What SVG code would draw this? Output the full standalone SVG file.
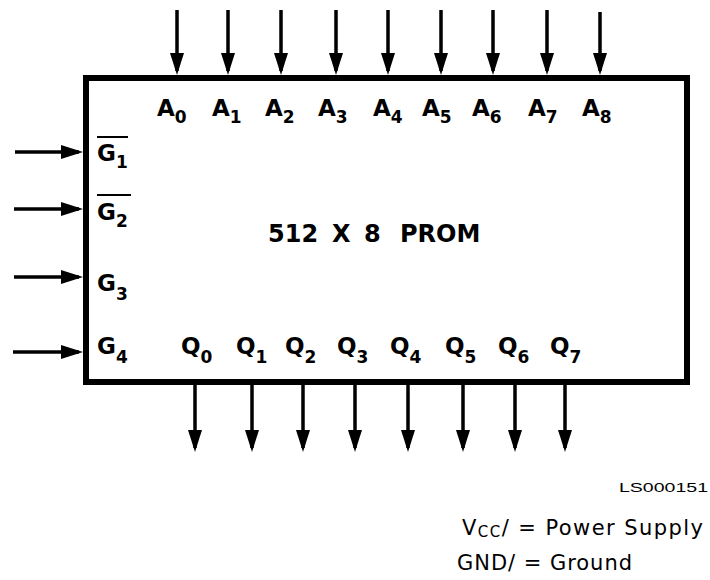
<svg xmlns="http://www.w3.org/2000/svg" width="710" height="580" viewBox="0 0 710 580">
<style>
.lbl{font-family:"DejaVu Sans","Liberation Sans",sans-serif;font-weight:bold;font-size:23px;fill:#000}
.sub{font-size:17px}
.title{font-family:"DejaVu Sans","Liberation Sans",sans-serif;font-weight:bold;font-size:24px;fill:#000}
.note{font-family:"DejaVu Sans","Liberation Sans",sans-serif;font-size:21px;fill:#000}
.code{font-family:"Liberation Sans",Arial,sans-serif;font-size:13px;fill:#000}
.wire{stroke:#000;stroke-width:3.5;fill:none;marker-end:url(#ah)}
.bar{stroke:#000;stroke-width:2}
</style>
<defs>
<marker id="ah" markerUnits="userSpaceOnUse" viewBox="0 0 22 14" refX="18" refY="7" markerWidth="22" markerHeight="14" orient="auto">
<path d="M0,0 L22,7 L0,14 z" fill="#000"/>
</marker>
</defs>
<rect width="710" height="580" fill="#fff"/>
<g id="prom">
<rect x="86" y="78" width="601" height="304" fill="none" stroke="#000" stroke-width="6"/>
<text class="title" x="268" y="242">512</text>
<text class="title" x="332" y="242">X</text>
<text class="title" x="364" y="242">8</text>
<text class="title" x="400" y="242">PROM</text>
<g id="addr-labels">
<text class="lbl" x="157" y="116">A<tspan class="sub" dy="7">0</tspan></text>
<text class="lbl" x="212" y="116">A<tspan class="sub" dy="7">1</tspan></text>
<text class="lbl" x="265" y="116">A<tspan class="sub" dy="7">2</tspan></text>
<text class="lbl" x="318" y="116">A<tspan class="sub" dy="7">3</tspan></text>
<text class="lbl" x="373" y="116">A<tspan class="sub" dy="7">4</tspan></text>
<text class="lbl" x="422" y="116">A<tspan class="sub" dy="7">5</tspan></text>
<text class="lbl" x="472" y="116">A<tspan class="sub" dy="7">6</tspan></text>
<text class="lbl" x="528" y="116">A<tspan class="sub" dy="7">7</tspan></text>
<text class="lbl" x="582" y="116">A<tspan class="sub" dy="7">8</tspan></text>
</g>
<g id="enable-labels">
<text class="lbl" x="97" y="161">G<tspan class="sub" dy="7">1</tspan></text>
<line class="bar" x1="97" y1="137" x2="128" y2="137"/>
<text class="lbl" x="97" y="220">G<tspan class="sub" dy="7">2</tspan></text>
<line class="bar" x1="97" y1="195" x2="131" y2="195"/>
<text class="lbl" x="97" y="291">G<tspan class="sub" dy="9">3</tspan></text>
<text class="lbl" x="97" y="354">G<tspan class="sub" dy="9">4</tspan></text>
</g>
<g id="out-labels">
<text class="lbl" x="181" y="354">Q<tspan class="sub" dy="9">0</tspan></text>
<text class="lbl" x="236" y="354">Q<tspan class="sub" dy="9">1</tspan></text>
<text class="lbl" x="285" y="354">Q<tspan class="sub" dy="9">2</tspan></text>
<text class="lbl" x="337" y="354">Q<tspan class="sub" dy="9">3</tspan></text>
<text class="lbl" x="390" y="354">Q<tspan class="sub" dy="9">4</tspan></text>
<text class="lbl" x="445" y="354">Q<tspan class="sub" dy="9">5</tspan></text>
<text class="lbl" x="498" y="354">Q<tspan class="sub" dy="9">6</tspan></text>
<text class="lbl" x="550" y="354">Q<tspan class="sub" dy="9">7</tspan></text>
</g>
</g>
<g id="connectors">
<line class="wire" x1="177" y1="10" x2="177" y2="71"/>
<line class="wire" x1="228" y1="10" x2="228" y2="71"/>
<line class="wire" x1="281" y1="10" x2="281" y2="71"/>
<line class="wire" x1="336" y1="10" x2="336" y2="71"/>
<line class="wire" x1="388" y1="10" x2="388" y2="71"/>
<line class="wire" x1="441" y1="10" x2="441" y2="71"/>
<line class="wire" x1="493" y1="10" x2="493" y2="71"/>
<line class="wire" x1="547" y1="10" x2="547" y2="71"/>
<line class="wire" x1="600" y1="12" x2="600" y2="71"/>
<line class="wire" x1="15" y1="152" x2="79" y2="152"/>
<line class="wire" x1="14" y1="209" x2="79" y2="209"/>
<line class="wire" x1="14" y1="277" x2="79" y2="277"/>
<line class="wire" x1="13" y1="352" x2="79" y2="352"/>
<line class="wire" x1="195" y1="385" x2="195" y2="448"/>
<line class="wire" x1="252" y1="385" x2="252" y2="448"/>
<line class="wire" x1="303" y1="385" x2="303" y2="448"/>
<line class="wire" x1="355" y1="385" x2="355" y2="448"/>
<line class="wire" x1="408" y1="385" x2="408" y2="448"/>
<line class="wire" x1="463" y1="385" x2="463" y2="448"/>
<line class="wire" x1="515" y1="385" x2="515" y2="448"/>
<line class="wire" x1="565" y1="385" x2="565" y2="448"/>
</g>
<g id="legend">
<text class="code" x="619" y="492" textLength="89" lengthAdjust="spacingAndGlyphs">LS000151</text>
<text class="note" x="462" y="535" textLength="241">V<tspan font-size="15" dy="2">CC</tspan><tspan dy="-2">/ = Power Supply</tspan></text>
<text class="note" x="457" y="570" textLength="175">GND/ = Ground</text>
</g>
</svg>
